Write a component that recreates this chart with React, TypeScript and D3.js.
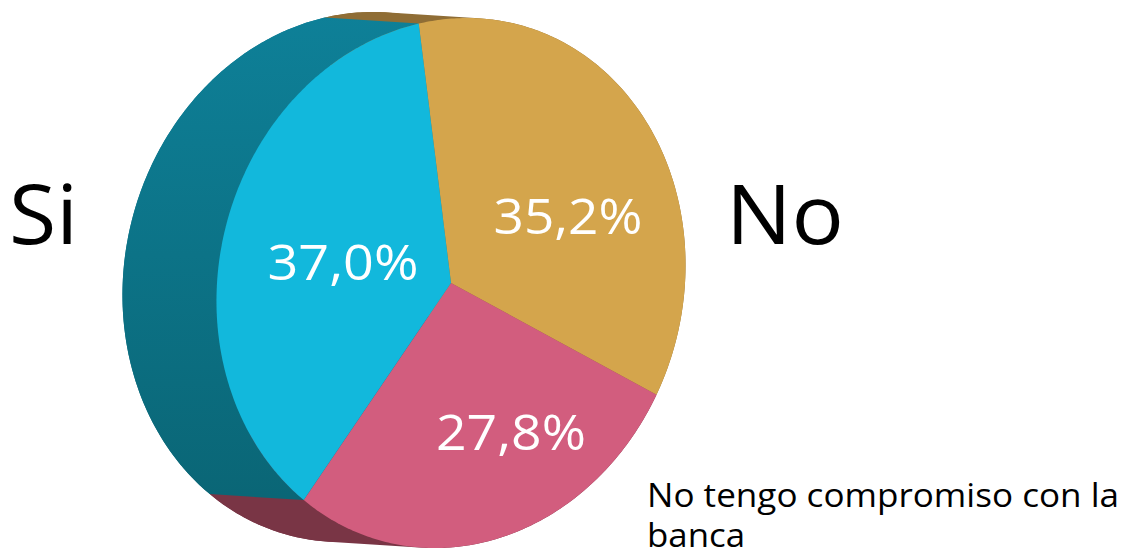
import React from "react";
import * as d3 from "d3";

const categories = ["No", "No tengo compromiso con la", "banca", "Si"];
const shares = [35.2, 27.8, 37.0];
const shareLabels = ["35,2%", "27,8%", "37,0%"];
const faceColors = ["#d4a54c", "#d25d7e", "#12b8dc"];
const sideColors = ["#8f6d35", "#793545", "url(#teal)"];

const W = 1123, H = 550;
const cx = 451, cy = 283, rx = 234, ry = 265;
const shear = -0.06;
const dx = -94, dy = -6;
const font = "'Open Sans', sans-serif";
const rad = Math.PI / 180;
const startAngle = -11.8 * rad;

const pt = (a: number, ox = 0, oy = 0): [number, number] => {
  const y = -ry * Math.cos(a);
  return [cx + ox + rx * Math.sin(a) + shear * y, cy + oy + y];
};

const arcs = d3.pie<number>().sort(null).startAngle(startAngle).endAngle(startAngle + 2 * Math.PI)(shares);
const lineGen = d3.line();

function arcPts(a0: number, a1: number, ox = 0, oy = 0) {
  const n = Math.max(8, Math.round(((a1 - a0) / rad) * 1.5));
  return d3.range(n + 1).map((i) => pt(a0 + ((a1 - a0) * i) / n, ox, oy));
}

// the swept side wall: small quads, all wound the same way so their union fills
function wall(front: [number, number][], back: [number, number][]) {
  let d = "";
  for (let k = 0; k < front.length - 1; k++) {
    const j = Math.min(k + 2, front.length - 1);
    const q: [number, number][] = [front[k], front[j], back[j], back[k]];
    if (d3.polygonArea(q) < 0) q.reverse();
    d += lineGen(q) + "Z";
  }
  return d;
}

const labelPos = [[568, 234, 149], [511, 450, 150], [343, 280, 151]];

export default function App() {
  return (
    <svg width={W} height={H} style={{ position: "absolute", left: 0, top: 0, background: "#fff" }}>
      <defs>
        <linearGradient id="teal" gradientUnits="userSpaceOnUse" x1="0" y1="15" x2="0" y2="495">
          <stop offset="0" stopColor="#0e8098" />
          <stop offset="1" stopColor="#0a6676" />
        </linearGradient>
      </defs>
      {arcs.map((d, i) => {
        const front = arcPts(d.startAngle, d.endAngle);
        const back = arcPts(d.startAngle, d.endAngle, dx, dy);
        return (
          <g key={"side" + i}>
            <path d={lineGen([[cx + dx, cy + dy], ...back]) + "Z"} fill={sideColors[i]} />
            <path d={wall(front, back)} fill={sideColors[i]} fillRule="nonzero" />
          </g>
        );
      })}
      {arcs.map((d, i) => (
        <path
          key={"face" + i}
          d={lineGen([[cx, cy], ...arcPts(d.startAngle, d.endAngle)]) + "Z"}
          fill={faceColors[i]}
        />
      ))}
      {labelPos.map(([x, y, w], i) => (
        <text key={i} x={x - w / 2} y={y} fill="#fff" fontFamily={font} fontSize={50}
          textLength={w} lengthAdjust="spacingAndGlyphs">
          {shareLabels[i]}
        </text>
      ))}
      <text x={726} y={244} fontFamily={font} fontSize={83} fill="#000" textLength={118} lengthAdjust="spacingAndGlyphs">{categories[0]}</text>
      <text x={9} y={244} fontFamily={font} fontSize={83} fill="#000" textLength={69} lengthAdjust="spacingAndGlyphs">{categories[3]}</text>
      <text x={647} y={507} fontFamily={font} fontSize={32} fill="#000" textLength={472} lengthAdjust="spacingAndGlyphs">{categories[1]}</text>
      <text x={647} y={547} fontFamily={font} fontSize={32} fill="#000" textLength={98} lengthAdjust="spacingAndGlyphs">{categories[2]}</text>
    </svg>
  );
}
